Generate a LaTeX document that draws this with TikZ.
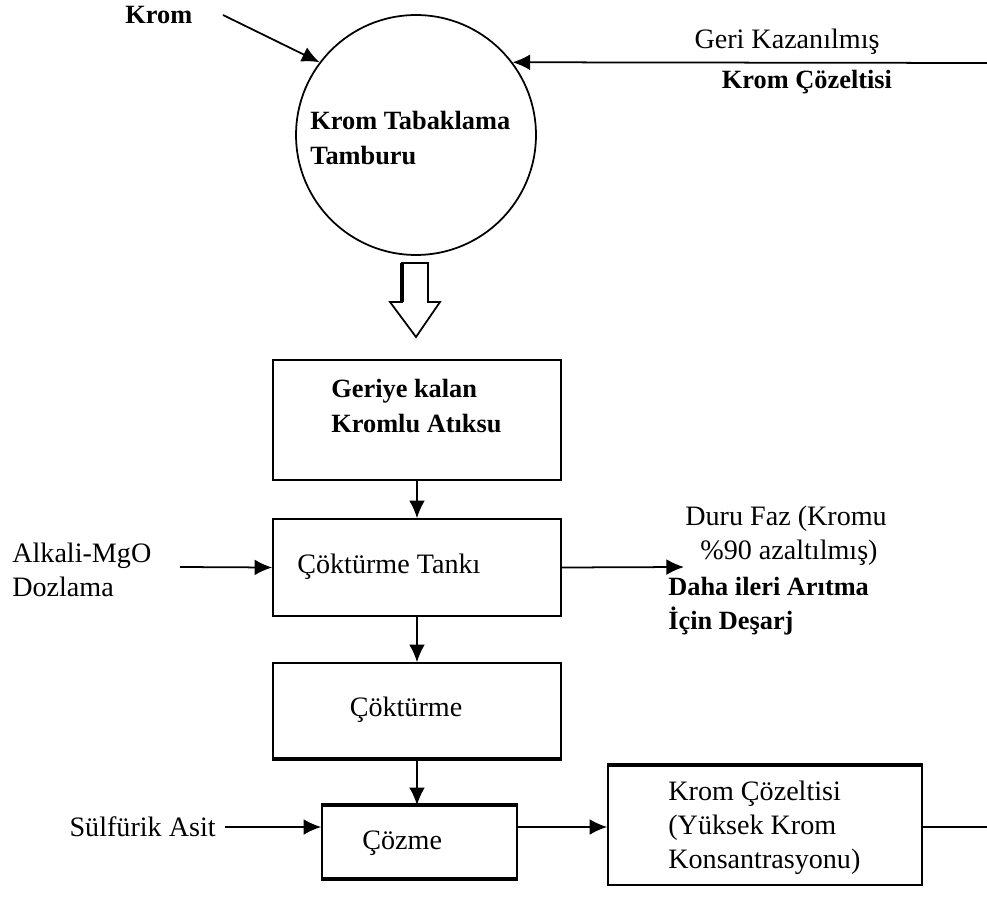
\documentclass[tikz,border=0pt]{standalone}
\usepackage{fontspec}
\setmainfont{Liberation Serif}
\usetikzlibrary{positioning, arrows.meta}
\tikzset{
	box/.style={draw, line width=1pt, rectangle, inner sep=0pt},
	drum/.style={draw, circle, line width=1pt, minimum size=4.8cm, inner sep=0pt},
	flow/.style={line width=1pt, -{Latex[length=10pt,width=9pt]}},
	plain/.style={line width=1pt},
	heavy/.style={line width=2.5pt},
	lbl/.style={font=\fontsize{16}{19.5}\selectfont, inner sep=0pt, anchor=west, align=left},
	blbl/.style={lbl, font=\fontsize{15}{19.5}\selectfont\bfseries}
}

\begin{document}
\begin{tikzpicture}[x=0.02cm, y=-0.02cm]
\useasboundingbox (0,0) rectangle (987,898);
% tanning drum
\node[drum] (drum) at (416,135) {};
\node[blbl] (drumtxt) at (310,138) {Krom Tabaklama\\Tamburu};
\node[blbl] (krom) at (125,15) {Krom};
\coordinate (kromin) at (223,15);
\draw[flow] (kromin) -- (drum.143);
\coordinate (recin) at (987,63);
\draw[flow] (recin) -- (drum.37);
\node[lbl, anchor=center] (geri) at (787,42) {Geri Kazanılmış};
\node[blbl, anchor=center] (krcoz) at (807,82) {Krom Çözeltisi};
% hollow arrow
\draw[plain, fill=white] (402,263) -- (428,263) -- (428,302) -- (440,302) -- (416,337) -- (390,302) -- (402,302) -- cycle;
\draw[line width=2pt] (402,263) -- (402,302);
% boxes
\node[box, minimum width=5.76cm, minimum height=2.4cm] (atik) at (417,420) {};
\node[blbl] (atiktxt) at (331,406) {Geriye kalan\\Kromlu Atıksu};
\node[box, minimum width=5.76cm, minimum height=1.94cm] (tank) at (417,567.5) {};
\node[lbl] (tanktxt) at (297,567) {Çöktürme Tankı};
\node[box, minimum width=5.76cm, minimum height=1.9cm] (cokt) at (417,710.5) {};
\node[lbl, anchor=center] (cokttxt) at (406,710) {Çöktürme};
\node[box, minimum width=3.9cm, minimum height=1.44cm] (cozme) at (419.5,842) {};
\node[lbl] (cozmetxt) at (362,843) {Çözme};
\draw[heavy] (cozme.north west) -- (cozme.north east);
\draw[heavy] (cozme.south west) -- (cozme.south east);
\draw[heavy] (cokt.south west) -- (cokt.south east);
\node[box, minimum width=6.28cm, minimum height=2.38cm] (kromcoz) at (765,825.5) {};
\draw[heavy] (kromcoz.north west) -- (kromcoz.north east);
\node[lbl] (kromcoztxt) at (668,828) {Krom Çözeltisi\\(Yüksek Krom\\Konsantrasyonu)};
% side texts
\node[lbl] (alktxt) at (12,570) {Alkali-MgO\\Dozlama};
\node[lbl] (durufaz) at (685,519) {Duru Faz (Kromu};
\node[lbl] (yuzde) at (700,553) {\%90 azaltılmış)};
\node[blbl] (desarj) at (668,606) {Daha ileri Arıtma\\İçin Deşarj};
\node[lbl, anchor=east] (sulftxt) at (216,827) {Sülfürik Asit};
% connectors
\coordinate (alk) at (180,567);
\coordinate (duru) at (684,567);
\coordinate (sulf) at (225,827);
\coordinate (out) at (987,827);
\draw[flow] (atik.south) -- (tank.north);
\draw[flow] (alk) -- (tank.west);
\draw[flow] (tank.east) -- (duru);
\draw[flow] (tank.south) -- (cokt.north);
\draw[flow] (cokt.south) -- (cokt.south |- cozme.north);
\draw[flow] (sulf) -- (sulf -| cozme.west);
\draw[flow] (cozme.east |- sulf) -- (kromcoz.west |- sulf);
\draw[plain] (kromcoz.east |- out) -- (out);
\end{tikzpicture}
\end{document}
